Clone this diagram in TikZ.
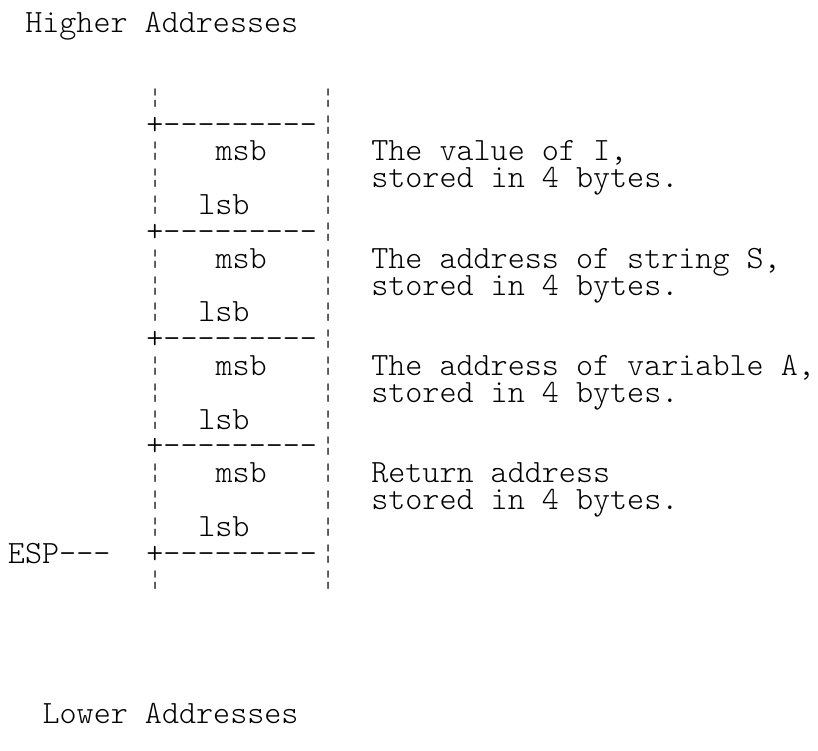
\documentclass[tikz,border=0pt]{standalone}
\usepackage{fontspec}
\setmonofont{Latin Modern Mono Light}
\newcommand\cw{17.3}
\newcommand\lh{26.8}
\newcommand\bz{27}
\tikzset{
  txt/.style={inner sep=0pt,outer sep=0pt,anchor=base west,font=\ttfamily\fontsize{32.5}{32.5}\selectfont,text=black},
  bar/.style={inner sep=0pt,outer sep=0pt,anchor=base,font=\ttfamily\fontsize{24}{24}\selectfont,text=black}}
% #1 name, #2 column, #3 line, #4 text
\newcommand\putt[4]{\node[txt] (#1) at ({8+\cw*#2},{\bz+\lh*#3}) {#4};}
% broken bar: #1 name, #2 column, #3 line
\newcommand\putb[3]{\node[bar] (#1) at ({8+\cw*(#2+0.5)},{\bz+\lh*#3-2}) {¦};}
% one slot: #1 id, #2 first line, #3 description line 1, #4 description line 2
\newcommand\slot[4]{%
  \putb{l#1a}{8}{#2}\putt{m#1}{12}{#2}{msb}\putb{r#1a}{18}{#2}%
  \putt{d#1a}{21}{#2}{#3}%
  \putb{l#1b}{8}{(#2+1)}\putb{r#1b}{18}{(#2+1)}%
  \putt{d#1b}{21}{(#2+1)}{#4}%
  \putb{l#1c}{8}{(#2+2)}\putt{n#1}{11}{(#2+2)}{lsb}\putb{r#1c}{18}{(#2+2)}%
}
% separator line: #1 id, #2 line
\newcommand\sepline[2]{\putt{s#1}{8}{#2}{+---------}\putb{e#1}{18}{#2}}
\begin{document}
\begin{tikzpicture}[x=1pt,y=-1pt]
\useasboundingbox[fill=white] (0,0) rectangle (818,751);
\node[txt] (hi) at ({8+\cw*1},33) {Higher Addresses};
\node[txt] (lo) at ({8+\cw*2},723) {Lower Addresses};
\putb{tl}{8}{3}\putb{tr}{18}{3}
\sepline{0}{4}
\slot{A}{5}{The value of I,}{stored in 4 bytes.}
\sepline{1}{8}
\slot{B}{9}{The address of string S,}{stored in 4 bytes.}
\sepline{2}{12}
\slot{C}{13}{The address of variable A,}{stored in 4 bytes.}
\sepline{3}{16}
\slot{D}{17}{Return address}{stored in 4 bytes.}
\putt{esp}{0}{20}{ESP---}
\sepline{4}{20}
\putb{bl}{8}{21}\putb{br}{18}{21}
\end{tikzpicture}
\end{document}
